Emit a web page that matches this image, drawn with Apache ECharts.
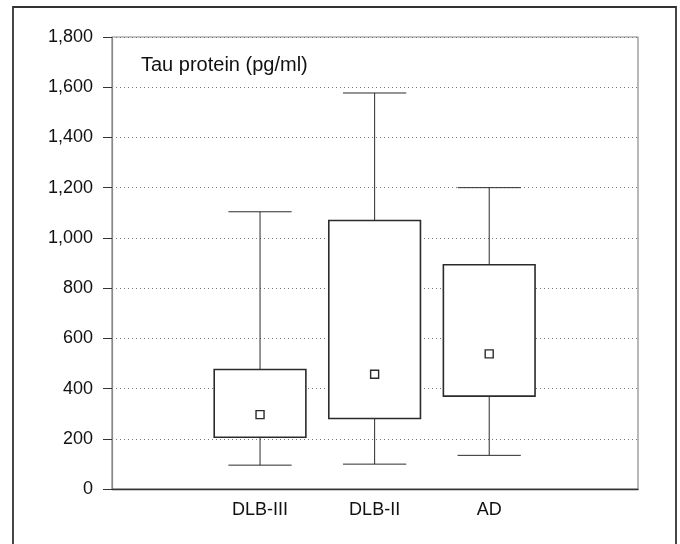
<!DOCTYPE html>
<html>
<head>
<meta charset="utf-8">
<script src="https://cdn.jsdelivr.net/npm/echarts@6/dist/echarts.min.js"></script>
<style>
  html, body { margin: 0; padding: 0; background: #fff; }
  #main { width: 680px; height: 544px; }
</style>
</head>
<body>
<div id="main"></div>
<script>
const chart = echarts.init(document.getElementById('main'));

// groups and their box plot values (pg/ml)
const groups = ['DLB-III', 'DLB-II', 'AD'];
const whiskerLow = [95, 99, 134];
const q1 = [206, 281, 370];
const centerMark = [296, 457, 538];
const q3 = [476, 1069, 893];
const whiskerHigh = [1104, 1577, 1200];

const boxData = groups.map((g, i) => [i, whiskerLow[i], q1[i], centerMark[i], q3[i], whiskerHigh[i]]);

const fontFamily = '"Liberation Sans", Arial, sans-serif';
const ink = '#2b2b2b';

function renderBox(params, api) {
  const i = api.value(0);
  const band = api.size([1, 0])[0];
  const half = band * 0.4;
  const capHalf = band * 0.276;
  const pLow = api.coord([i, api.value(1)]);
  const pQ1 = api.coord([i, api.value(2)]);
  const pMid = api.coord([i, api.value(3)]);
  const pQ3 = api.coord([i, api.value(4)]);
  const pHigh = api.coord([i, api.value(5)]);
  const x = pQ1[0];
  const thin = { stroke: ink, lineWidth: 1 };
  return {
    type: 'group',
    children: [
      { type: 'line', shape: { x1: x, y1: pLow[1], x2: x, y2: pQ1[1] }, style: thin },
      { type: 'line', shape: { x1: x, y1: pQ3[1], x2: x, y2: pHigh[1] }, style: thin },
      { type: 'line', shape: { x1: x - capHalf, y1: pLow[1], x2: x + capHalf, y2: pLow[1] }, style: thin },
      { type: 'line', shape: { x1: x - capHalf, y1: pHigh[1], x2: x + capHalf, y2: pHigh[1] }, style: thin },
      {
        type: 'rect',
        shape: { x: x - half, y: pQ3[1], width: half * 2, height: pQ1[1] - pQ3[1] },
        style: { fill: '#fff', stroke: ink, lineWidth: 1.6 }
      },
      {
        type: 'rect',
        shape: { x: x - 4, y: pMid[1] - 4, width: 8, height: 8 },
        style: { fill: '#fff', stroke: ink, lineWidth: 1.4 }
      }
    ]
  };
}

chart.setOption({
  backgroundColor: '#fff',
  animation: false,
  textStyle: { fontFamily: fontFamily },
  title: {
    text: 'Tau protein (pg/ml)',
    left: 136,
    top: 50,
    textStyle: { fontSize: 20, fontWeight: 'normal', color: '#111', fontFamily: fontFamily }
  },
  graphic: [{
    type: 'rect',
    shape: { x: 13, y: 7, width: 663, height: 600 },
    style: { fill: 'none', stroke: '#333', lineWidth: 1.8 },
    z: 100
  }],
  grid: [
    { left: 112, right: 42, top: 37, bottom: 55, show: true, borderColor: '#8a8a8a', borderWidth: 1.2, backgroundColor: 'transparent' },
    { left: 202.75, right: 133.5, top: 37, bottom: 55 }
  ],
  xAxis: [
    {
      gridIndex: 0, type: 'value', min: 0, max: 1,
      axisLine: { show: true, lineStyle: { color: '#333', width: 1.3 } },
      axisTick: { show: false }, axisLabel: { show: false }, splitLine: { show: false }
    },
    {
      gridIndex: 1, type: 'category', data: groups,
      axisLine: { show: false }, axisTick: { show: false },
      axisLabel: { color: '#111', fontSize: 18, margin: 12, fontFamily: fontFamily }
    }
  ],
  yAxis: [
    {
      gridIndex: 0, type: 'value', min: 0, max: 1800, interval: 200,
      axisLine: { show: true, lineStyle: { color: '#888', width: 1.2 } },
      axisTick: { show: true, length: 9, lineStyle: { color: '#333' } },
      axisLabel: { color: '#111', fontSize: 18, margin: 19, fontFamily: fontFamily },
      splitLine: { show: true, lineStyle: { color: '#777', width: 1, type: [1, 3] } }
    },
    {
      gridIndex: 1, type: 'value', min: 0, max: 1800, show: false, splitLine: { show: false }
    }
  ],
  series: [{
    type: 'custom',
    xAxisIndex: 1,
    yAxisIndex: 1,
    renderItem: renderBox,
    data: boxData,
    z: 10
  }]
});
</script>
</body>
</html>
